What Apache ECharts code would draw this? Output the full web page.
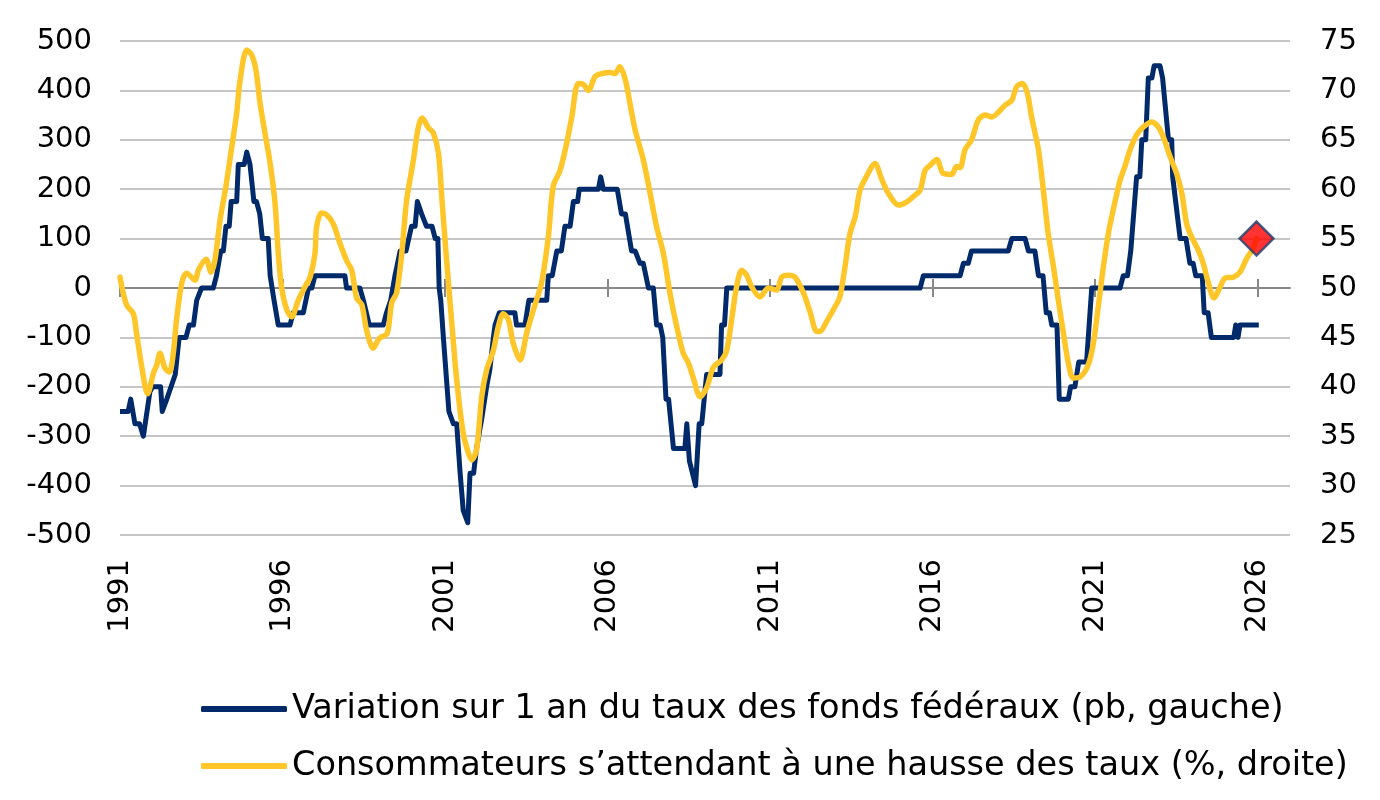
<!DOCTYPE html>
<html>
<head>
<meta charset="utf-8">
<script src="https://cdn.jsdelivr.net/npm/echarts@6/dist/echarts.min.js"></script>
<style>
html, body { margin: 0; padding: 0; background: #fff; }
#main { width: 1380px; height: 800px; }
</style>
</head>
<body>
<div id="main"></div>
<script>
// fed funds 1-year change (bp, left axis) - step line
var fedYears = [
	1991.00, 1991.25, 1991.33, 1991.46, 1991.60, 1991.72, 1991.92, 1992.00, 1992.25, 1992.30,
	1992.44, 1992.70, 1992.82, 1993.03, 1993.13, 1993.26, 1993.36, 1993.42, 1993.51, 1993.87,
	1993.97, 1994.10, 1994.18, 1994.26, 1994.36, 1994.42, 1994.59, 1994.64, 1994.82, 1994.90,
	1995.00, 1995.12, 1995.20, 1995.30, 1995.38, 1995.56, 1995.62, 1995.74, 1995.87, 1996.23,
	1996.33, 1996.64, 1996.80, 1996.90, 1997.00, 1997.92, 1997.97, 1998.38, 1998.49, 1998.67,
	1999.10, 1999.20, 1999.33, 1999.46, 1999.62, 1999.80, 1999.97, 2000.08, 2000.15, 2000.28,
	2000.43, 2000.60, 2000.70, 2000.78, 2000.82, 2000.87, 2000.95, 2001.12, 2001.26, 2001.36,
	2001.46, 2001.56, 2001.70, 2001.77, 2001.88, 2001.97, 2002.13, 2002.28, 2002.38, 2002.49,
	2002.54, 2002.67, 2003.15, 2003.20, 2003.46, 2003.58, 2004.13, 2004.18, 2004.30, 2004.44,
	2004.58, 2004.69, 2004.85, 2004.95, 2005.08, 2005.13, 2005.72, 2005.79, 2005.87, 2006.30,
	2006.43, 2006.55, 2006.74, 2006.85, 2007.00, 2007.10, 2007.26, 2007.41, 2007.51, 2007.62,
	2007.70, 2007.80, 2007.88, 2008.03, 2008.38, 2008.44, 2008.52, 2008.71, 2008.82, 2008.90,
	2009.05, 2009.46, 2009.51, 2009.60, 2009.67, 2015.62, 2015.72, 2016.85, 2016.95, 2017.10,
	2017.20, 2018.33, 2018.44, 2018.85, 2018.95, 2019.15, 2019.26, 2019.40, 2019.50, 2019.60,
	2019.67, 2019.83, 2019.90, 2020.18, 2020.25, 2020.38, 2020.44, 2020.50, 2020.74, 2020.90,
	2021.77, 2021.87, 2022.00, 2022.10, 2022.28, 2022.38, 2022.44, 2022.56, 2022.64, 2022.75,
	2022.82, 2023.00, 2023.08, 2023.26, 2023.36, 2023.39, 2023.62, 2023.80, 2023.92, 2024.02,
	2024.10, 2024.30, 2024.36, 2024.48, 2024.58, 2025.27, 2025.33, 2025.40, 2025.46, 2026.04
];
var fedChange = [
	-250, -250, -225, -275, -275, -300, -210, -200, -200, -250,
	-225, -175, -100, -100, -75, -75, -25, -25, 0, 0,
	25, 75, 75, 125, 125, 175, 175, 250, 250, 275,
	250, 175, 175, 150, 100, 100, 25, -25, -75, -75,
	-50, -50, 0, 0, 25, 25, 0, 0, -25, -75,
	-75, -50, -25, 25, 75, 75, 125, 125, 175, 150,
	125, 125, 100, 100, 0, -25, -100, -250, -275, -275,
	-370, -450, -475, -375, -375, -325, -265, -200, -165, -100,
	-75, -50, -50, -75, -75, -25, -25, 25, 25, 75,
	75, 125, 125, 175, 175, 200, 200, 225, 200, 200,
	150, 150, 75, 75, 50, 50, 0, 0, -75, -75,
	-100, -225, -225, -325, -325, -275, -350, -400, -275, -275,
	-175, -175, -75, -75, 0, 0, 25, 25, 50, 50,
	75, 75, 100, 100, 75, 75, 25, 25, -50, -50,
	-75, -75, -225, -225, -200, -200, -175, -150, -150, 0,
	0, 25, 25, 75, 225, 225, 300, 300, 425, 425,
	450, 450, 425, 300, 300, 225, 100, 100, 50, 50,
	25, 25, -50, -50, -100, -100, -75, -100, -75, -75
];

// consumers expecting higher rates (%, right axis)
var consYears = [
	1991.00, 1991.20, 1991.41, 1991.51, 1991.67, 1991.85, 1992.03, 1992.13, 1992.23, 1992.38,
	1992.52, 1992.64, 1992.74, 1992.90, 1993.05, 1993.31, 1993.41, 1993.65, 1993.80, 1993.92,
	1994.08, 1994.26, 1994.44, 1994.59, 1994.69, 1994.90, 1995.05, 1995.18, 1995.31, 1995.46,
	1995.62, 1995.77, 1995.87, 1995.97, 1996.13, 1996.28, 1996.49, 1996.69, 1996.85, 1997.00,
	1997.05, 1997.20, 1997.36, 1997.56, 1997.77, 1997.97, 1998.13, 1998.28, 1998.44, 1998.59,
	1998.79, 1998.98, 1999.22, 1999.36, 1999.51, 1999.67, 1999.82, 2000.03, 2000.18, 2000.30,
	2000.49, 2000.64, 2000.80, 2000.90, 2001.05, 2001.20, 2001.36, 2001.56, 2001.72, 2001.82,
	2001.97, 2002.13, 2002.28, 2002.49, 2002.64, 2002.79, 2002.95, 2003.10, 2003.31, 2003.51,
	2003.72, 2003.97, 2004.18, 2004.33, 2004.54, 2004.74, 2004.90, 2005.10, 2005.26, 2005.41,
	2005.62, 2005.82, 2006.08, 2006.23, 2006.38, 2006.54, 2006.69, 2006.85, 2007.10, 2007.31,
	2007.51, 2007.72, 2007.92, 2008.13, 2008.33, 2008.49, 2008.64, 2008.85, 2009.05, 2009.26,
	2009.51, 2009.67, 2009.82, 2009.97, 2010.13, 2010.28, 2010.44, 2010.69, 2010.95, 2011.20,
	2011.36, 2011.56, 2011.77, 2012.03, 2012.23, 2012.44, 2012.54, 2012.74, 2013.00, 2013.15,
	2013.31, 2013.46, 2013.62, 2013.77, 2013.97, 2014.23, 2014.44, 2014.64, 2014.95, 2015.20,
	2015.46, 2015.62, 2015.77, 2015.92, 2016.13, 2016.33, 2016.59, 2016.74, 2016.85, 2017.00,
	2017.20, 2017.41, 2017.62, 2017.82, 2018.03, 2018.23, 2018.44, 2018.59, 2018.77, 2018.92,
	2019.05, 2019.26, 2019.41, 2019.56, 2019.72, 2019.87, 2020.03, 2020.18, 2020.33, 2020.54,
	2020.79, 2020.95, 2021.10, 2021.26, 2021.41, 2021.56, 2021.77, 2021.92, 2022.08, 2022.28,
	2022.49, 2022.74, 2022.95, 2023.10, 2023.31, 2023.51, 2023.67, 2023.82, 2023.97, 2024.18,
	2024.33, 2024.49, 2024.66, 2024.85, 2025.00, 2025.26, 2025.46, 2025.67, 2025.87, 2025.97
];
var consPct = [
	51.1, 48.3, 47.4, 45.4, 42.0, 39.3, 41.4, 42.2, 43.4, 41.9,
	41.5, 43.4, 46.8, 50.5, 51.5, 50.8, 51.8, 52.9, 51.6, 52.8,
	56.9, 60.3, 64.3, 67.7, 70.9, 74.1, 73.6, 72.1, 68.7, 65.7,
	62.6, 58.6, 53.5, 50.1, 47.8, 47.1, 48.8, 50.1, 51.1, 53.5,
	56.2, 57.6, 57.4, 56.5, 54.5, 52.8, 51.8, 49.0, 48.3, 45.7,
	43.9, 44.9, 45.4, 48.5, 49.5, 53.5, 58.9, 63.0, 66.3, 67.2,
	66.2, 65.7, 63.6, 59.2, 52.8, 46.8, 40.7, 35.3, 33.3, 32.6,
	33.6, 39.0, 41.7, 43.7, 46.1, 47.4, 46.8, 44.4, 42.7, 45.4,
	47.8, 50.5, 55.2, 60.3, 61.9, 64.6, 67.3, 70.7, 70.6, 70.0,
	71.4, 71.7, 71.8, 71.7, 72.4, 71.2, 68.7, 66.0, 63.0, 59.6,
	56.2, 53.5, 49.5, 46.1, 43.4, 42.4, 40.9, 39.0, 39.9, 42.0,
	42.7, 43.7, 46.8, 50.1, 51.8, 51.3, 50.1, 49.1, 50.0, 49.8,
	51.1, 51.3, 51.1, 49.5, 47.6, 45.6, 45.6, 46.6, 48.1, 49.1,
	52.2, 55.5, 57.2, 59.9, 61.3, 62.6, 61.0, 59.6, 58.4, 58.7,
	59.4, 59.9, 61.9, 62.4, 63.0, 61.6, 61.5, 62.3, 62.2, 64.0,
	65.0, 67.0, 67.5, 67.3, 67.8, 68.5, 69.0, 70.4, 70.7, 69.7,
	67.3, 64.0, 59.9, 55.5, 52.2, 48.8, 45.4, 42.4, 40.9, 41.0,
	42.2, 44.4, 48.1, 52.2, 55.5, 57.9, 60.9, 62.3, 64.0, 65.5,
	66.3, 66.8, 66.3, 65.3, 63.3, 61.6, 59.6, 56.5, 55.2, 53.8,
	52.5, 50.5, 49.0, 50.1, 51.0, 51.1, 51.6, 53.0, 54.0, 55.0
];

// latest reading, red diamond
var markYear = [2025.97];
var markPct = [55];

var yearTicks = [1991, 1996, 2001, 2006, 2011, 2016, 2021, 2026];

var fedName = 'Variation sur 1 an du taux des fonds fédéraux (pb, gauche)';
var consName = 'Consommateurs s\u2019attendant à une hausse des taux (%, droite)';

function zip(xs, ys) {
	var out = [];
	for (var i = 0; i < xs.length; i++) out.push([xs[i], ys[i]]);
	return out;
}

var FONT = 'DejaVu Sans';
var navy = '#002A6A';
var gold = '#FFC629';
var tickStyle = { color: '#888', width: 2 };

var chart = echarts.init(document.getElementById('main'));

// x axis common part
function yearAxis(extra) {
	var ax = {
		type: 'value',
		min: 1991,
		max: 2027,
		interval: 5,
		splitLine: { show: false }
	};
	for (var k in extra) ax[k] = extra[k];
	return ax;
}

var option = {
	animation: false,
	backgroundColor: '#fff',
	textStyle: { fontFamily: FONT },
	grid: {
		left: 120,
		right: 90,
		top: 41,
		bottom: 265,
		containLabel: false,
		outerBoundsMode: 'none'
	},
	legend: {
		orient: 'vertical',
		left: 196,
		top: 684,
		icon: 'roundRect',
		itemWidth: 86,
		itemHeight: 6,
		itemGap: 17,
		textStyle: { fontFamily: FONT, fontSize: 33.5, lineHeight: 40, color: '#000' },
		data: [fedName, consName]
	},
	xAxis: [
		// labels at the bottom
		yearAxis({
			position: 'bottom',
			axisLine: { show: false, onZero: false },
			axisTick: { show: false },
			axisLabel: {
				customValues: yearTicks,
				rotate: 90,
				margin: 24,
				fontFamily: FONT,
				fontSize: 29,
				color: '#000',
				formatter: function (v) { return String(v); }
			}
		}),
		// zero line + upward ticks
		yearAxis({
			position: 'top',
			axisLine: { show: true, onZero: true, onZeroAxisIndex: 0, lineStyle: tickStyle },
			axisTick: { show: true, length: 9, customValues: yearTicks, lineStyle: tickStyle },
			axisLabel: { show: false }
		}),
		// downward ticks on the zero line
		yearAxis({
			position: 'bottom',
			axisLine: { show: false, onZero: true, onZeroAxisIndex: 2 },
			axisTick: { show: true, length: 9, customValues: yearTicks, lineStyle: tickStyle },
			axisLabel: { show: false }
		})
	],
	yAxis: [{
		type: 'value',
		min: -500,
		max: 500,
		interval: 100,
		axisLine: { show: false },
		axisTick: { show: false },
		splitLine: { lineStyle: { color: '#c6c6c6', width: 2 } },
		axisLabel: { margin: 28, fontFamily: FONT, fontSize: 29, color: '#000' }
	}, {
		type: 'value',
		min: 25,
		max: 75,
		interval: 5,
		axisLine: { show: false },
		axisTick: { show: false },
		splitLine: { show: false },
		axisLabel: { margin: 30, fontFamily: FONT, fontSize: 29, color: '#000' }
	}, {
		type: 'value',
		min: -500,
		max: 500,
		show: false
	}],
	series: [{
		name: fedName,
		type: 'line',
		xAxisIndex: 0,
		yAxisIndex: 0,
		symbol: 'none',
		color: navy,
		lineStyle: { color: navy, width: 5, join: 'round' },
		data: zip(fedYears, fedChange),
		z: 3
	}, {
		name: consName,
		type: 'line',
		xAxisIndex: 0,
		yAxisIndex: 1,
		symbol: 'none',
		smooth: 0.3,
		color: gold,
		lineStyle: { color: gold, width: 5.5, join: 'round', cap: 'round' },
		data: zip(consYears, consPct),
		z: 4
	}, {
		name: 'dernier',
		type: 'scatter',
		xAxisIndex: 0,
		yAxisIndex: 1,
		symbol: 'diamond',
		symbolSize: [34, 34],
		itemStyle: { color: '#FF0000', borderColor: '#1F3F6E', borderWidth: 2.5 },
		data: zip(markYear, markPct),
		z: 5
	}]
};

chart.setOption(option);
</script>
</body>
</html>
